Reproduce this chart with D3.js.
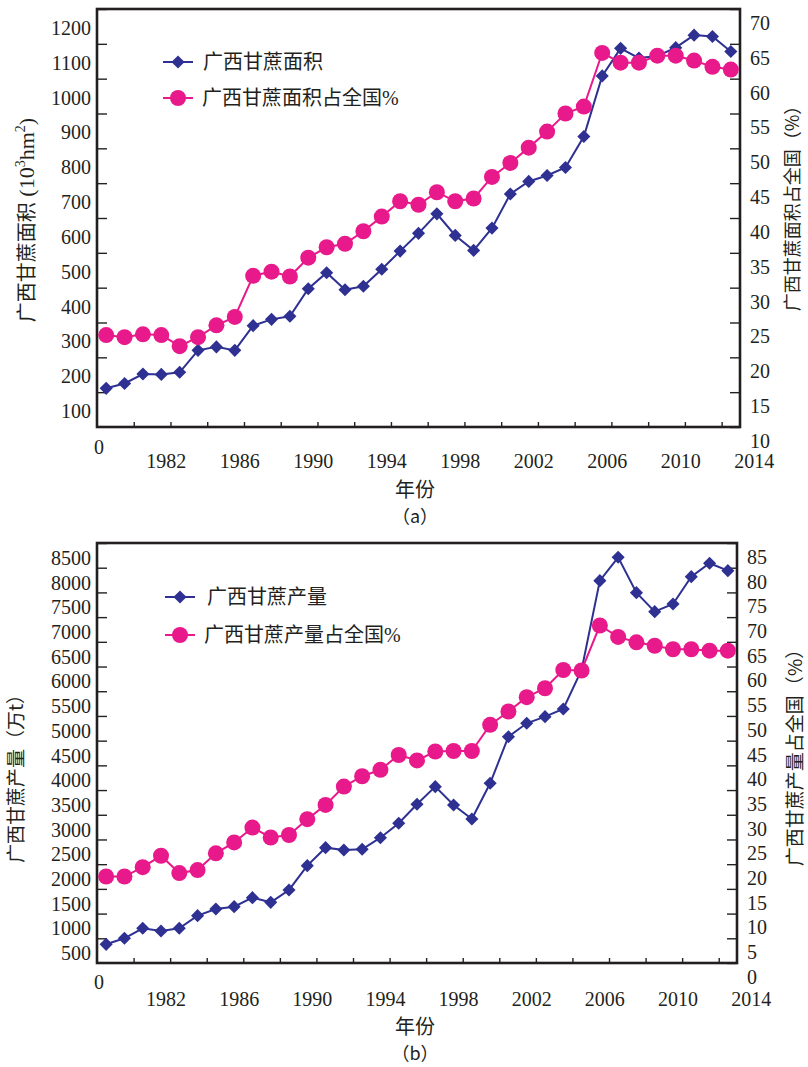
<!DOCTYPE html>
<html>
<head>
<meta charset="utf-8">
<script src="https://cdn.jsdelivr.net/npm/d3@7"></script>
<style>
  body{margin:0;background:#fff;}
  svg{display:block;}
</style>
</head>
<body>
<script>
// years shown on the category axis (one point per year)
const years=[1979,1980,1981,1982,1983,1984,1985,1986,1987,1988,1989,1990,1991,1992,1993,1994,1995,1996,1997,1998,1999,2000,2001,2002,2003,2004,2005,2006,2007,2008,2009,2010,2011,2012,2013];

// (a) 甘蔗面积 10^3 hm2, and share of national area %
const areaVals=[111,125,152,151,157,220,230,220,291,309,318,397,443,394,404,453,505,556,612,550,507,571,669,705,722,745,834,1008,1087,1059,1065,1089,1125,1121,1078];
const areaShare=[23.2,22.9,23.3,23.2,21.6,22.9,24.6,25.8,31.7,32.3,31.6,34.3,35.8,36.3,38.1,40.2,42.4,41.9,43.7,42.4,42.8,45.9,47.9,50.1,52.4,55.0,56.0,63.7,62.3,62.3,63.3,63.3,62.6,61.7,61.3];

// (b) 甘蔗产量 万t, and share of national output %
const prodVals=[378,500,702,648,702,958,1093,1140,1322,1228,1478,1970,2334,2287,2301,2536,2827,3212,3569,3198,2915,3637,4580,4851,4985,5141,5930,7738,8211,7495,7110,7266,7819,8090,7940];
const prodShare=[17.5,17.5,19.4,21.7,18.2,18.8,22.2,24.4,27.4,25.4,25.9,29.1,32.0,35.7,37.8,39.1,42.1,41.0,42.8,42.9,42.9,48.2,50.9,53.8,55.6,59.3,59.2,68.3,66.0,64.9,64.2,63.5,63.5,63.2,63.2];

// tick labels
const xTickMarks=[1980.5,1982.5,1984.5,1986.5,1988.5,1990.5,1992.5,1994.5,1996.5,1998.5,2000.5,2002.5,2004.5,2006.5,2008.5,2010.5,2012.5];
const xLabels=[1982,1986,1990,1994,1998,2002,2006,2010,2014];
const areaTicks=[100,200,300,400,500,600,700,800,900,1000,1100,1200];
const areaShareTicks=[10,15,20,25,30,35,40,45,50,55,60,65,70];
const prodTicks=[500,1000,1500,2000,2500,3000,3500,4000,4500,5000,5500,6000,6500,7000,7500,8000,8500];
const prodShareTicks=[0,5,10,15,20,25,30,35,40,45,50,55,60,65,70,75,80,85];

const NAVY="#2e3192", PINK="#e8198b";
const NUM="'Liberation Serif','Times New Roman',serif";
const CJK="'Noto Sans CJK SC','Noto Sans CJK JP',sans-serif";
const fmt=d3.format("d");

const svg=d3.select("body").append("svg").attr("width",808).attr("height",1067);

function panel(c){
  const g=svg.append("g");
  const x=d3.scaleLinear().domain([1978.5,2013.5]).range([c.left,c.right]);
  const yL=d3.scaleLinear().domain(c.leftDomain).range([c.bottom,c.top]);
  const yR=d3.scaleLinear().domain(c.rightDomain).range([c.bottom,c.top]);

  // left axis: ticks point inward, labels sit lower than their ticks (as in the print)
  const gl=g.append("g").attr("transform",`translate(${c.left},0)`)
    .call(d3.axisLeft(yL).tickValues(c.leftTicks).tickFormat(fmt).tickSizeInner(-10).tickSizeOuter(0).tickPadding(6));
  gl.select(".domain").remove();
  gl.selectAll("line").attr("stroke","#222").attr("stroke-width",1.4);
  gl.selectAll("text").attr("font-family",NUM).attr("font-size",20).attr("fill","#231f20")
    .attr("transform",`translate(0,${c.leftShift})`);

  const gr=g.append("g").attr("transform",`translate(${c.right},0)`)
    .call(d3.axisRight(yR).tickValues(c.rightTicks).tickFormat(fmt).tickSizeInner(-10).tickSizeOuter(0).tickPadding(10));
  gr.select(".domain").remove();
  gr.selectAll("line").attr("stroke","#222").attr("stroke-width",1.4);
  gr.selectAll("text").attr("font-family",NUM).attr("font-size",20).attr("fill","#231f20")
    .attr("transform",`translate(0,${c.rightShift})`);

  const gx=g.append("g").attr("transform",`translate(0,${c.bottom})`)
    .call(d3.axisBottom(x).tickValues(xTickMarks).tickSizeInner(-5).tickSizeOuter(0).tickFormat(""));
  gx.select(".domain").remove();
  gx.selectAll("line").attr("stroke","#222").attr("stroke-width",1.4);

  const gxl=g.append("g").attr("transform",`translate(0,${c.bottom})`)
    .call(d3.axisBottom(x).tickValues(xLabels).tickSize(0).tickPadding(c.yearPad).tickFormat(fmt));
  gxl.select(".domain").remove();
  gxl.selectAll("text").attr("font-family",NUM).attr("font-size",20).attr("fill","#231f20")
    .attr("transform","translate(4.5,0)");

  g.append("text").attr("x",x(1978.5)+2).attr("y",c.bottom+c.zeroPad).attr("dy","0.35em")
    .attr("text-anchor","middle").attr("font-family",NUM).attr("font-size",20).attr("fill","#231f20").text("0");

  // frame
  g.append("rect").attr("x",c.left).attr("y",c.top).attr("width",c.right-c.left).attr("height",c.bottom-c.top)
    .attr("fill","none").attr("stroke","#231f20").attr("stroke-width",2.6);

  // series
  const diamond=d3.symbol(d3.symbolSquare,86);
  const line1=d3.line().x((d,i)=>x(years[i])).y(d=>yL(d));
  g.append("path").datum(c.bars).attr("fill","none").attr("stroke",NAVY).attr("stroke-width",2).attr("d",line1);
  g.selectAll(".dia").data(c.bars).join("path").attr("class","dia").attr("d",diamond).attr("fill",NAVY)
    .attr("transform",(d,i)=>`translate(${x(years[i])},${yL(d)}) rotate(45)`);

  const line2=d3.line().x((d,i)=>x(years[i])).y(d=>yR(d));
  g.append("path").datum(c.share).attr("fill","none").attr("stroke",PINK).attr("stroke-width",2).attr("d",line2);
  g.selectAll(".dot").data(c.share).join("circle").attr("class","dot")
    .attr("cx",(d,i)=>x(years[i])).attr("cy",d=>yR(d)).attr("r",8).attr("fill",PINK);

  // legend
  const lg=g.append("g").attr("transform",`translate(${c.legX},${c.legY})`);
  lg.append("line").attr("x1",-15).attr("x2",15).attr("stroke",NAVY).attr("stroke-width",2);
  lg.append("path").attr("d",diamond).attr("fill",NAVY).attr("transform","rotate(45)");
  lg.append("text").attr("x",c.leg1dx).attr("dy","0.35em").attr("font-family",CJK).attr("font-size",20)
    .attr("fill","#231f20").text(c.leg1);
  const lg2=lg.append("g").attr("transform",`translate(0,${c.legGap})`);
  lg2.append("line").attr("x1",-15).attr("x2",15).attr("stroke",PINK).attr("stroke-width",2);
  lg2.append("circle").attr("r",8).attr("fill",PINK);
  const t2=lg2.append("text").attr("x",24).attr("dy","0.35em").attr("font-size",20).attr("fill","#231f20");
  t2.append("tspan").attr("font-family",CJK).text(c.leg2);
  t2.append("tspan").attr("font-family",NUM).text("%");

  // axis titles
  const lt=g.append("text").attr("transform",`translate(${c.ltX},${c.ltY}) rotate(-90)`)
    .attr("text-anchor","middle").attr("dy","0.35em").attr("font-size",c.ltSize).attr("fill","#231f20");
  c.leftTitle(lt);

  g.append("text").attr("transform",`translate(${c.rtX},${c.rtY}) rotate(-90)`)
    .attr("text-anchor","middle").attr("dy","0.35em").attr("font-family",CJK).attr("font-size",c.rtSize)
    .attr("fill","#231f20").text(c.rightTitle);

  g.append("text").attr("x",415).attr("y",c.bottom+c.xtPad).attr("dy","0.35em").attr("text-anchor","middle")
    .attr("font-family",CJK).attr("font-size",20).attr("fill","#231f20").text("年份");
  g.append("text").attr("x",415).attr("y",c.bottom+c.xtPad+27).attr("dy","0.35em").attr("text-anchor","middle")
    .attr("font-family",CJK).attr("font-size",18).attr("fill","#231f20").text(c.tag);
}

panel({
  left:97,right:740,top:9,bottom:427,
  leftDomain:[0,1200],rightDomain:[10,70],
  leftTicks:areaTicks,rightTicks:areaShareTicks,leftShift:19,rightShift:14,
  yearPad:27,zeroPad:20,xtPad:63,
  bars:areaVals,share:areaShare,
  legX:178,legY:62,legGap:36,leg1dx:25,
  leg1:"广西甘蔗面积",leg2:"广西甘蔗面积占全国",
  ltX:27,ltY:220,ltSize:20,
  leftTitle:t=>{
    t.append("tspan").attr("font-family",CJK).text("广西甘蔗面积");
    t.append("tspan").attr("font-family",NUM).attr("font-size",22).text(" (10");
    t.append("tspan").attr("font-family",NUM).attr("font-size",14).attr("dy",-9).text("3");
    t.append("tspan").attr("font-family",NUM).attr("font-size",22).attr("dy",9).text("hm");
    t.append("tspan").attr("font-family",NUM).attr("font-size",14).attr("dy",-9).text("2");
    t.append("tspan").attr("font-family",NUM).attr("font-size",22).attr("dy",9).text(")");
  },
  rtX:793,rtY:204,rtSize:18,rightTitle:"广西甘蔗面积占全国（%）",
  tag:"（a）"
});

panel({
  left:97,right:737,top:543,bottom:963,
  leftDomain:[0,8500],rightDomain:[0,85],
  leftTicks:prodTicks,rightTicks:prodShareTicks,leftShift:15,rightShift:14,
  yearPad:29,zeroPad:19,xtPad:64,
  bars:prodVals,share:prodShare,
  legX:180,legY:597,legGap:38,leg1dx:27,
  leg1:"广西甘蔗产量",leg2:"广西甘蔗产量占全国",
  ltX:16,ltY:774,ltSize:19,
  leftTitle:t=>{
    t.append("tspan").attr("font-family",CJK).text("广西甘蔗产量（万t）");
  },
  rtX:795,rtY:753,rtSize:19,rightTitle:"广西甘蔗产量占全国（%）",
  tag:"（b）"
});
</script>
</body>
</html>
